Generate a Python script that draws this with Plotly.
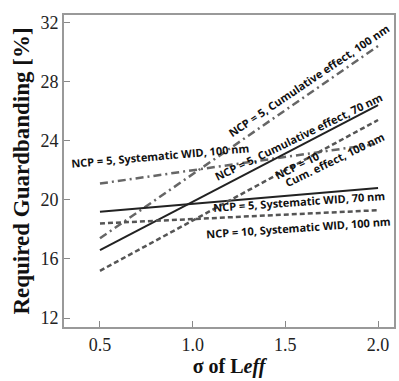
import plotly.graph_objects as go

x_sigma = [0.5, 2.0]
ncp5_cum_100 = [17.4, 30.4]
ncp5_sys_100 = [21.1, 23.8]
ncp5_cum_70 = [16.6, 26.4]
ncp5_sys_70 = [19.2, 20.8]
ncp10_cum_100 = [15.2, 25.4]
ncp10_sys_100 = [18.4, 19.3]

y_ticks = [12, 16, 20, 24, 28, 32]
x_ticks = [0.5, 1.0, 1.5, 2.0]
x_tick_labels = ["0.5", "1.0", "1.5", "2.0"]

series = [
    (ncp5_cum_100, "#666666", "8px,4px,2px,4px", 2.5),
    (ncp5_sys_100, "#666666", "8px,4px,2px,4px", 2.5),
    (ncp5_cum_70, "#222222", "solid", 2),
    (ncp5_sys_70, "#222222", "solid", 2),
    (ncp10_cum_100, "#555555", "5px,3px", 2.5),
    (ncp10_sys_100, "#555555", "5px,3px", 2.5),
]

fig = go.Figure()
for ys, col, dash, w in series:
    fig.add_trace(go.Scatter(x=x_sigma, y=ys, mode="lines",
                             line=dict(color=col, dash=dash, width=w),
                             showlegend=False))

W, H = 399, 381
l, r, t, b = 64, 3, 15, 54
pw, ph = W - l - r, H - t - b

ann_font = dict(family="Open Sans", size=11, color="#111111", weight="bold")
annotations = [
    ("NCP = 5, Cumulative effect, 100 nm", 310, 80, -34),
    ("NCP = 5, Cumulative effect, 70 nm", 300, 136, -26),
    ("NCP = 10", 298, 165, -26),
    ("Cum. effect, 100 nm", 336, 159, -26),
    ("NCP = 5, Systematic WID, 100 nm", 161, 156, -5),
    ("NCP = 5, Systematic WID, 70 nm", 300, 201, -4),
    ("NCP = 10, Systematic WID, 100 nm", 300, 227, -4),
]
for text, px, py, ang in annotations:
    fig.add_annotation(text=text, x=(px - l) / pw, y=1 - (py - t) / ph,
                       xref="paper", yref="paper", showarrow=False,
                       textangle=ang, font=ann_font,
                       xanchor="center", yanchor="middle")

fig.update_layout(
    width=W, height=H,
    margin=dict(l=l, r=r, t=t, b=b),
    plot_bgcolor="white", paper_bgcolor="white",
    xaxis=dict(range=[0.306, 2.086], tickvals=x_ticks, ticktext=x_tick_labels,
               ticks="inside", ticklen=6, tickcolor="#888888",
               showline=True, linecolor="#999999", linewidth=2, mirror=True,
               showgrid=False, zeroline=False,
               tickfont=dict(family="Liberation Serif", size=18, color="#222222"),
               title=dict(text="<b>σ of L<i>eff</i></b>", standoff=3,
                          font=dict(family="Liberation Serif", size=20, color="#111111"))),
    yaxis=dict(range=[11.4, 32.5], tickvals=y_ticks,
               ticks="inside", ticklen=6, tickcolor="#888888",
               showline=True, linecolor="#999999", linewidth=2, mirror=True,
               showgrid=False, zeroline=False,
               tickfont=dict(family="Liberation Serif", size=18, color="#222222"),
               title=dict(text="<b>Required Guardbanding [%]</b>", standoff=4,
                          font=dict(family="Liberation Serif", size=23, color="#111111"))),
)

fig.write_html("out.html")
